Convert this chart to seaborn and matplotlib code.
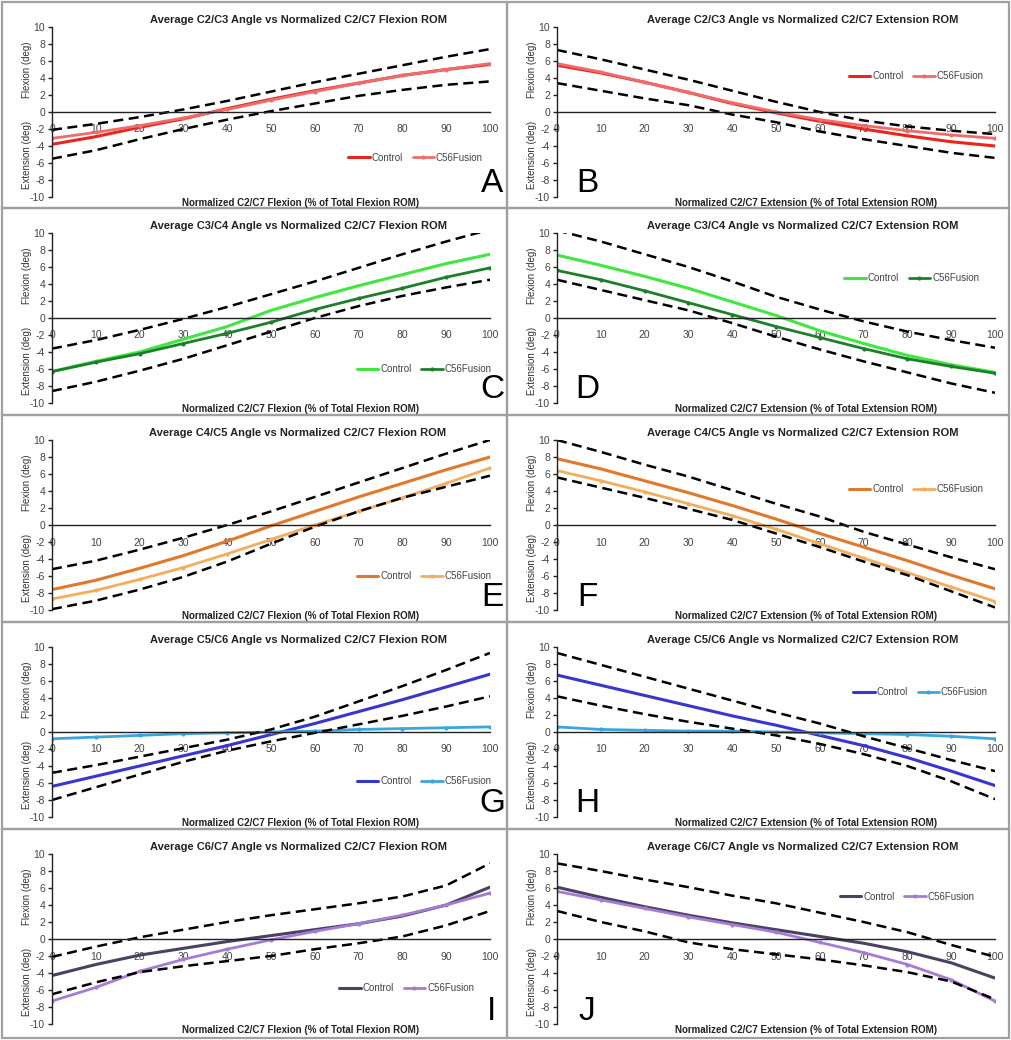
import matplotlib
matplotlib.use("Agg")
import matplotlib.pyplot as plt
import pandas as pd
import seaborn as sns
from matplotlib.patches import Rectangle

# Normalized C2/C7 ROM (%)
PCT = [0, 10, 20, 30, 40, 50, 60, 70, 80, 90, 100]

# C2/C3 flexion (A) and extension (B)
A_CONTROL = [-3.8, -2.9, -1.8, -0.8, 0.4, 1.5, 2.5, 3.4, 4.3, 5.0, 5.6]
A_FUSION = [-3.1, -2.4, -1.6, -0.7, 0.3, 1.4, 2.4, 3.4, 4.3, 5.0, 5.7]
A_UPPER = [-2.1, -1.4, -0.6, 0.3, 1.3, 2.4, 3.5, 4.5, 5.5, 6.5, 7.4]
A_LOWER = [-5.5, -4.5, -3.2, -2.0, -0.9, 0.1, 1.0, 1.9, 2.6, 3.2, 3.6]

B_CONTROL = [5.5, 4.6, 3.5, 2.3, 1.0, -0.1, -1.1, -2.0, -2.8, -3.5, -4.0]
B_FUSION = [5.7, 4.7, 3.5, 2.3, 1.1, 0.0, -0.9, -1.6, -2.2, -2.7, -3.1]
B_UPPER = [7.3, 6.2, 5.0, 3.8, 2.5, 1.2, 0.0, -1.0, -1.7, -2.2, -2.6]
B_LOWER = [3.4, 2.5, 1.6, 0.8, -0.3, -1.2, -2.3, -3.2, -4.0, -4.8, -5.4]

# C3/C4 flexion (C) and extension (D)
C_CONTROL = [-6.3, -5.1, -4.0, -2.5, -1.0, 0.9, 2.4, 3.8, 5.1, 6.4, 7.5]
C_FUSION = [-6.3, -5.2, -4.2, -3.0, -1.8, -0.5, 1.0, 2.3, 3.5, 4.8, 5.9]
C_UPPER = [-3.6, -2.6, -1.4, -0.1, 1.3, 2.8, 4.3, 5.9, 7.5, 9.0, 10.4]
C_LOWER = [-8.6, -7.5, -6.2, -4.8, -3.2, -1.6, 0.0, 1.4, 2.6, 3.6, 4.5]

D_CONTROL = [7.4, 6.2, 4.9, 3.5, 1.9, 0.3, -1.5, -3.0, -4.4, -5.5, -6.4]
D_FUSION = [5.6, 4.5, 3.2, 1.8, 0.4, -1.0, -2.3, -3.6, -4.8, -5.7, -6.5]
D_UPPER = [10.3, 9.0, 7.5, 6.0, 4.3, 2.5, 1.0, -0.4, -1.6, -2.6, -3.5]
D_LOWER = [4.5, 3.3, 2.1, 0.9, -0.6, -2.2, -3.7, -5.1, -6.4, -7.7, -8.8]

# C4/C5 flexion (E) and extension (F)
E_CONTROL = [-7.6, -6.5, -5.1, -3.6, -1.9, -0.1, 1.6, 3.3, 4.9, 6.5, 8.0]
E_FUSION = [-8.7, -7.7, -6.4, -5.0, -3.4, -1.7, 0.0, 1.6, 3.2, 4.9, 6.7]
E_UPPER = [-5.2, -4.2, -2.9, -1.5, 0.0, 1.6, 3.3, 5.0, 6.7, 8.4, 10.0]
E_LOWER = [-9.9, -8.9, -7.6, -6.1, -4.3, -2.2, -0.2, 1.6, 3.2, 4.5, 5.8]

F_CONTROL = [7.8, 6.6, 5.2, 3.8, 2.3, 0.7, -1.0, -2.6, -4.2, -5.9, -7.5]
F_FUSION = [6.4, 5.2, 3.9, 2.5, 1.1, -0.5, -2.2, -3.9, -5.6, -7.3, -9.0]
F_UPPER = [10.0, 8.6, 7.1, 5.7, 4.1, 2.5, 1.0, -0.8, -2.3, -3.8, -5.2]
F_LOWER = [5.6, 4.4, 3.2, 1.9, 0.6, -1.0, -2.6, -4.3, -5.9, -7.8, -9.7]

# C5/C6 flexion (G) and extension (H)
G_CONTROL = [-6.4, -5.2, -4.0, -2.8, -1.6, -0.3, 1.0, 2.4, 3.8, 5.3, 6.8]
G_FUSION = [-0.8, -0.6, -0.4, -0.2, -0.1, 0.0, 0.1, 0.3, 0.4, 0.5, 0.6]
G_UPPER = [-4.8, -3.9, -2.9, -1.9, -0.9, 0.3, 1.8, 3.6, 5.4, 7.3, 9.3]
G_LOWER = [-8.0, -6.5, -5.0, -3.5, -2.2, -1.1, -0.1, 0.9, 1.9, 3.0, 4.2]

H_CONTROL = [6.7, 5.5, 4.3, 3.1, 1.9, 0.8, -0.4, -1.6, -3.0, -4.6, -6.3]
H_FUSION = [0.6, 0.3, 0.2, 0.1, 0.1, 0.0, -0.1, -0.2, -0.3, -0.5, -0.8]
H_UPPER = [9.3, 7.9, 6.5, 5.1, 3.7, 2.3, 1.0, -0.5, -1.9, -3.3, -4.6]
H_LOWER = [4.2, 3.1, 2.1, 1.2, 0.4, -0.4, -1.4, -2.6, -4.0, -5.8, -7.9]

# C6/C7 flexion (I) and extension (J)
I_CONTROL = [-4.3, -3.0, -1.9, -1.1, -0.3, 0.4, 1.1, 1.8, 2.7, 4.0, 6.1]
I_FUSION = [-7.3, -5.7, -3.8, -2.4, -1.2, -0.1, 0.9, 1.8, 2.8, 4.0, 5.4]
I_UPPER = [-2.1, -0.9, 0.2, 1.1, 2.0, 2.8, 3.5, 4.2, 5.0, 6.3, 8.9]
I_LOWER = [-6.5, -5.1, -3.9, -3.2, -2.6, -2.0, -1.2, -0.5, 0.3, 1.6, 3.3]

J_CONTROL = [6.1, 4.9, 3.8, 2.8, 1.9, 1.1, 0.3, -0.5, -1.5, -2.8, -4.6]
J_FUSION = [5.6, 4.6, 3.6, 2.6, 1.7, 0.8, -0.4, -1.6, -3.0, -4.8, -7.3]
J_UPPER = [8.9, 8.0, 7.0, 6.1, 5.1, 4.2, 3.1, 2.0, 0.8, -0.7, -2.1]
J_LOWER = [3.3, 2.0, 0.9, -0.4, -1.2, -1.8, -2.4, -3.1, -3.9, -5.0, -7.1]

LEVELS = ["C2/C3", "C3/C4", "C4/C5", "C5/C6", "C6/C7"]
LETTERS = ["A", "B", "C", "D", "E", "F", "G", "H", "I", "J"]
SERIES = [
	(A_CONTROL, A_FUSION, A_UPPER, A_LOWER), (B_CONTROL, B_FUSION, B_UPPER, B_LOWER),
	(C_CONTROL, C_FUSION, C_UPPER, C_LOWER), (D_CONTROL, D_FUSION, D_UPPER, D_LOWER),
	(E_CONTROL, E_FUSION, E_UPPER, E_LOWER), (F_CONTROL, F_FUSION, F_UPPER, F_LOWER),
	(G_CONTROL, G_FUSION, G_UPPER, G_LOWER), (H_CONTROL, H_FUSION, H_UPPER, H_LOWER),
	(I_CONTROL, I_FUSION, I_UPPER, I_LOWER), (J_CONTROL, J_FUSION, J_UPPER, J_LOWER),
]

# (control, fusion) colour per level
COLORS = [("#e8261e", "#f26b6b"), ("#3ee83e", "#1e7f2a"), ("#e2782a", "#f5ad5c"),
	("#3636d0", "#3aa6e0"), ("#4b4161", "#a57bd6")]

# legend centre (axes coords) per panel
LEGEND_POS = [(0.83, 0.23), (0.82, 0.71), (0.85, 0.20), (0.81, 0.735), (0.85, 0.20),
	(0.82, 0.71), (0.85, 0.21), (0.83, 0.735), (0.81, 0.21), (0.80, 0.75)]

W, H = 1011, 1040
COLS = [(2, 507), (507, 1009)]
ROWS = [(2, 208), (208, 415), (415, 622), (622, 829), (829, 1038)]

sns.set_style("white")
plt.rcParams["font.family"] = ["Liberation Sans", "DejaVu Sans"]
plt.rcParams["axes.unicode_minus"] = False

fig = plt.figure(figsize = (W / 100, H / 100), dpi = 100)

for idx, letter in enumerate(LETTERS):
	row, col = idx // 2, idx % 2
	left, right = COLS[col]
	top, bottom = ROWS[row]
	control, fusion, upper, lower = SERIES[idx]
	c_ctrl, c_fus = COLORS[row]
	motion = "Flexion" if col == 0 else "Extension"

	# Grey panel frame
	fig.add_artist(Rectangle((left / W, 1 - bottom / H), (right - left) / W, (bottom - top) / H,
		transform = fig.transFigure, fill = False, ec = "#a0a0a0", lw = 1.6))

	ax_l, ax_r = left + 50, left + 488
	ax_t, ax_b = top + 25, top + 195
	ax = fig.add_axes([ax_l / W, 1 - ax_b / H, (ax_r - ax_l) / W, (ax_b - ax_t) / H])
	ax.patch.set_alpha(0)

	df = pd.DataFrame({"pct": PCT, "control": control, "fusion": fusion, "upper": upper, "lower": lower})

	sns.lineplot(data = df, x = "pct", y = "control", ax = ax, color = c_ctrl, lw = 2.2, errorbar = None)
	h_ctrl = ax.lines[-1]
	sns.lineplot(data = df, x = "pct", y = "fusion", ax = ax, color = c_fus, lw = 2.0, errorbar = None,
		marker = "o", markersize = 3, markeredgewidth = 0)
	h_fus = ax.lines[-1]
	for col_name in ["upper", "lower"]:
		sns.lineplot(data = df, x = "pct", y = col_name, ax = ax, color = "black", lw = 1.8,
			errorbar = None, dashes = False, linestyle = (0, (4, 2.2)))

	ax.set_xlim(0, 100)
	ax.set_ylim(-10, 10)
	ax.set_xticks(PCT)
	ax.set_yticks(range(-10, 11, 2))
	ax.set_xlabel("")
	ax.set_ylabel("")

	for side in ["top", "right"]:
		ax.spines[side].set_visible(False)
	ax.spines["left"].set_color("#222222")
	ax.spines["left"].set_linewidth(1.0)
	ax.spines["bottom"].set_position(("data", 0))
	ax.spines["bottom"].set_color("#222222")
	ax.spines["bottom"].set_linewidth(1.0)

	ax.tick_params(axis = "x", direction = "inout", length = 4, width = 1, pad = 7, labelsize = 7.5,
		labelcolor = "#444444", color = "#222222")
	ax.tick_params(axis = "y", direction = "out", length = 3, width = 1, pad = 2, labelsize = 7.5,
		labelcolor = "#444444", color = "#222222", left = True)

	ax.text(-0.057, 0.75, "Flexion (deg)", rotation = 90, transform = ax.transAxes, ha = "center",
		va = "center", fontsize = 7, color = "#333333")
	ax.text(-0.057, 0.25, "Extension (deg)", rotation = 90, transform = ax.transAxes, ha = "center",
		va = "center", fontsize = 7, color = "#333333")

	ax.legend([h_ctrl, h_fus], ["Control", "C56Fusion"], loc = "center", bbox_to_anchor = LEGEND_POS[idx],
		ncol = 2, frameon = False, fontsize = 7, handlelength = 2.2, handletextpad = 0.2,
		columnspacing = 1.0, labelcolor = "#444444")

	fig.text((left + 296) / W, 1 - (top + 18) / H,
		"Average %s Angle vs Normalized C2/C7 %s ROM" % (LEVELS[row], motion),
		ha = "center", va = "center", fontsize = 8, fontweight = "bold", color = "#222222")
	fig.text((left + 299) / W, 1 - (top + 201) / H,
		"Normalized C2/C7 %s (%% of Total %s ROM)" % (motion, motion),
		ha = "center", va = "center", fontsize = 7, fontweight = "bold", color = "#222222")

	letter_x = left + 490 if col == 0 else left + 80
	fig.text(letter_x / W, 1 - (top + 182) / H, letter, ha = "center", va = "center", fontsize = 24,
		color = "black")

fig.savefig("out.png", dpi = 100)
